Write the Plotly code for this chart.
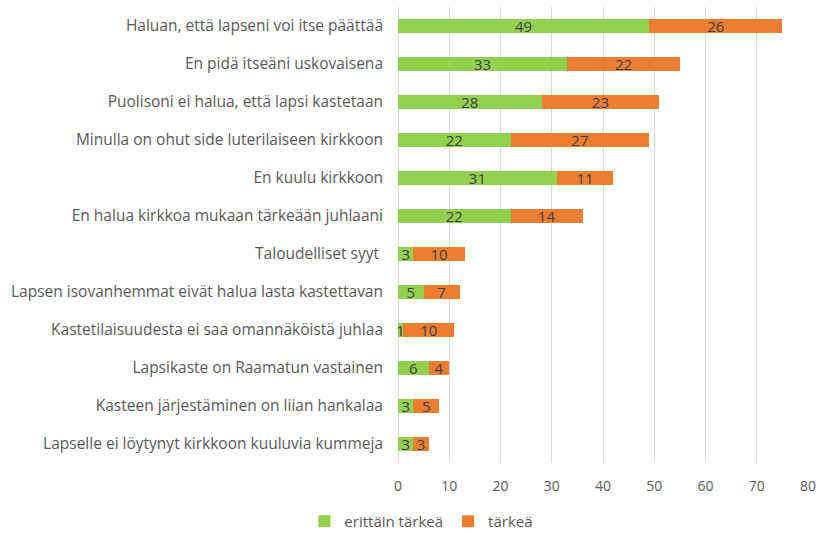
import plotly.graph_objects as go

categories = [
    "Haluan, että lapseni voi itse päättää",
    "En pidä itseäni uskovaisena",
    "Puolisoni ei halua, että lapsi kastetaan",
    "Minulla on ohut side luterilaiseen kirkkoon",
    "En kuulu kirkkoon",
    "En halua kirkkoa mukaan tärkeään juhlaani",
    "Taloudelliset syyt ",
    "Lapsen isovanhemmat eivät halua lasta kastettavan",
    "Kastetilaisuudesta ei saa omannäköistä juhlaa",
    "Lapsikaste on Raamatun vastainen",
    "Kasteen järjestäminen on liian hankalaa",
    "Lapselle ei löytynyt kirkkoon kuuluvia kummeja",
]
erittain_tarkea = [49, 33, 28, 22, 31, 22, 3, 5, 1, 6, 3, 3]
tarkea = [26, 22, 23, 27, 11, 14, 10, 7, 10, 4, 5, 3]
x_ticks = [0, 10, 20, 30, 40, 50, 60, 70, 80]

font_family = "'Open Sans', sans-serif"

fig = go.Figure()
for name, vals, col in [("erittäin tärkeä", erittain_tarkea, "#92D050"),
                        ("tärkeä", tarkea, "#ED7D31")]:
    fig.add_trace(go.Bar(
        y=categories, x=vals, orientation="h", name=name,
        marker=dict(color=col, line=dict(width=0)),
        text=vals, textposition="inside", insidetextanchor="middle",
        textangle=0,
        textfont=dict(color="#404040", size=15, family=font_family),
        constraintext="none", cliponaxis=False,
    ))

fig.update_layout(
    width=819, height=534,
    barmode="stack", bargap=0.63,
    plot_bgcolor="white", paper_bgcolor="white",
    margin=dict(l=398, r=11, t=7, b=71, autoexpand=False),
    font=dict(family=font_family, size=15, color="#595959"),
    uniformtext=dict(minsize=15, mode="show"),
    xaxis=dict(
        range=[0, 80], tickvals=x_ticks, showgrid=True, gridcolor="#D9D9D9",
        gridwidth=1, zeroline=True, zerolinecolor="#D9D9D9", zerolinewidth=1,
        tickfont=dict(size=14, color="#595959"), ticks="", fixedrange=True,
        automargin=False, ticklabelstandoff=13,
    ),
    yaxis=dict(
        categoryorder="array", categoryarray=categories, autorange="reversed",
        showgrid=False, ticks="", ticklen=0, tickfont=dict(size=15.5, color="#595959"),
        showline=False, automargin=False, ticklabelstandoff=14,
    ),
    legend=dict(
        orientation="h", x=0.057, xanchor="center", y=-0.092, yanchor="top",
        font=dict(size=15, color="#595959"), traceorder="normal",
        itemwidth=30,
    ),
)

fig.write_html(
    "out.html",
    config={"displayModeBar": False},
    post_script="document.body.style.margin='0';document.body.style.overflow='hidden';",
)
